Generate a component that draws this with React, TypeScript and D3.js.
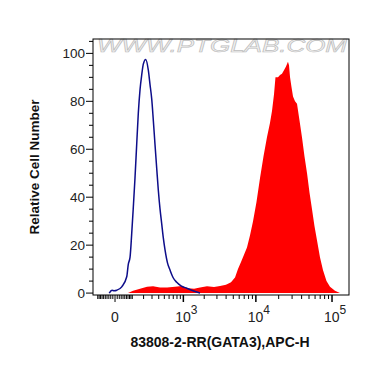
import React from 'react';
import * as d3 from 'd3';

// control (blue outline) histogram: channel value -> relative count
const controlX = [-28, -14, -4, 8, 33, 62, 72, 84, 96, 108, 121, 135, 149, 165, 181, 197, 223, 253, 274, 296, 318, 342, 368, 393, 422, 451, 481, 514, 566, 621, 694, 793, 922, 1122, 1386, 1746];
const controlY = [0, 1.2, 1.0, 1.2, 2.6, 6.8, 12, 15, 25, 36, 48, 62, 75, 85, 91, 95.5, 97.5, 93, 87, 81, 72, 62, 52, 43, 35, 29, 23, 18, 12.5, 9.6, 6.5, 4.5, 3, 2, 1, 0];

// GATA3 stained sample (red filled) histogram
const sampleX = [70, 106, 165, 238, 314, 422, 555, 746, 954, 1172, 1434, 1746, 2189, 2736, 3306, 3987, 4659, 5274, 5780, 6345, 6956, 7620, 8350, 9170, 10190, 11350, 12610, 14020, 15360, 16330, 17360, 18150, 19600, 20820, 22100, 23480, 24960, 26470, 27340, 28200, 29460, 30860, 32770, 34800, 37540, 40440, 43640, 47100, 50720, 54720, 58920, 63580, 69570, 76120, 84650, 94110, 109330, 127000];
const sampleY = [0, 1, 1.8, 2.6, 2.8, 2.3, 2.3, 2.6, 3.0, 2.0, 1.8, 2.3, 2.8, 2.5, 3.0, 3.5, 4.5, 6.5, 10, 13, 16, 19, 24, 30, 38, 48, 57, 65, 71, 76, 83, 90, 90, 91, 91.5, 93, 94.5, 96.5, 95, 90, 86, 82, 80, 79, 72, 65, 57, 50, 42, 35, 28, 22, 15, 9.6, 5, 2.6, 1, 0];

const xMajor = [0, 1000, 10000, 100000];
const xMajorExp = ['', '3', '4', '5'];
const yTicks = [0, 20, 40, 60, 80, 100];

const W = 370, H = 367;
const L = 93, R = 349, T = 39, B = 295;

export default function App() {
  const x = d3.scaleSymlog().constant(147).domain([-138, 166700]).range([L, R]);
  const y = d3.scaleLinear().domain([-0.8, 106]).range([B, T]);

  const minorX: number[] = [];
  for (let i = 1; i <= 10; i++) { minorX.push(-i * 10); minorX.push(i * 10); }
  [100, 1000, 10000].forEach(d => { for (let k = 2; k <= 9; k++) minorX.push(d * k); });
  const minorY = d3.range(0, 106, 5).filter(v => v % 20 !== 0);

  const sample = sampleX.map((v, i) => [v, sampleY[i]] as [number, number]);
  const control = controlX.map((v, i) => [v, controlY[i]] as [number, number]);

  const area = d3.area<[number, number]>().x(d => x(d[0])).y0(y(0)).y1(d => y(d[1]));
  const line = d3.line<[number, number]>().x(d => x(d[0])).y(d => y(d[1])).curve(d3.curveMonotoneX);

  const font = 'Liberation Sans, Arial, sans-serif';

  return (
    <svg width={W} height={H} style={{ position: 'absolute', left: 0, top: 0 }} fontFamily={font}>
      <rect width={W} height={H} fill="#fff" />
      <text x={97} y={52} fontSize={19} fontStyle="italic" fill="#f0f0f0" stroke="#bcbcbc" strokeWidth={0.6}
        textLength={250} lengthAdjust="spacingAndGlyphs">WWW.PTGLAB.COM</text>
      <path d={area(sample) || ''} fill="#ff0000" />
      <path d={line(control) || ''} fill="none" stroke="#0d0d8a" strokeWidth={1.5} />
      <rect x={L} y={T} width={R - L} height={B - T} fill="none" stroke="#000" strokeWidth={1} />

      {/* y axis */}
      {minorY.map(v => (
        <line key={'my' + v} x1={L - 4} x2={L} y1={y(v)} y2={y(v)} stroke="#000" />
      ))}
      {yTicks.map(v => (
        <g key={'y' + v}>
          <line x1={L - 7} x2={L} y1={y(v)} y2={y(v)} stroke="#000" />
          <text x={L - 8} y={y(v) + 5} fontSize={13.5} textAnchor="end" fill="#222">{v}</text>
        </g>
      ))}

      {/* x axis */}
      {minorX.map(v => (
        <line key={'mx' + v} x1={x(v)} x2={x(v)} y1={B} y2={B + 4} stroke="#000" />
      ))}
      {xMajor.map((v, i) => (
        <g key={'x' + v}>
          <line x1={x(v)} x2={x(v)} y1={B} y2={B + 7} stroke="#000" strokeWidth={v === 0 ? 1 : 1.5} />
          {v === 0 ? (
            <text x={x(v)} y={322} fontSize={14} textAnchor="middle" fill="#222">0</text>
          ) : (
            <text x={x(v) + 3} y={322} fontSize={14} textAnchor="middle" fill="#222">
              10<tspan dy={-8} fontSize={12}>{xMajorExp[i]}</tspan>
            </text>
          )}
        </g>
      ))}

      <text x={220} y={347} fontSize={14} fontWeight="bold" textAnchor="middle" fill="#111">83808-2-RR(GATA3),APC-H</text>
      <text transform="translate(39,167) rotate(-90)" fontSize={13.5} fontWeight="bold" textAnchor="middle" fill="#111">Relative Cell Number</text>
    </svg>
  );
}
